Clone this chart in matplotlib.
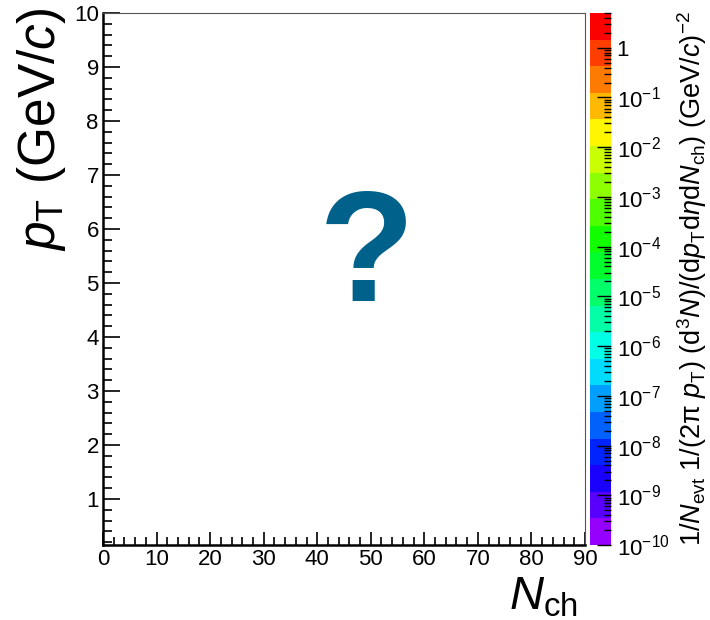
import numpy as np
import matplotlib
matplotlib.use("Agg")
import matplotlib.pyplot as plt
from matplotlib.colors import ListedColormap, LogNorm, hsv_to_rgb
from matplotlib.cm import ScalarMappable
from matplotlib.ticker import MultipleLocator, LogLocator, NullFormatter

plt.rcParams['font.family'] = ['Liberation Sans', 'DejaVu Sans']
plt.rcParams['mathtext.fontset'] = 'custom'
plt.rcParams['mathtext.rm'] = 'Liberation Sans'
plt.rcParams['mathtext.it'] = 'Liberation Sans:italic'
plt.rcParams['mathtext.bf'] = 'Liberation Sans:bold'

# axis ranges / ticks
x_range = [0, 90]
y_range = [0.15, 10]
x_major = [0, 10, 20, 30, 40, 50, 60, 70, 80, 90]
y_major = [1, 2, 3, 4, 5, 6, 7, 8, 9, 10]

# colour scale
z_range = [1e-10, 5]
z_ticks = [1e-10, 1e-9, 1e-8, 1e-7, 1e-6, 1e-5, 1e-4, 1e-3, 1e-2, 1e-1, 1]
z_labels = [r"$10^{-10}$", r"$10^{-9}$", r"$10^{-8}$", r"$10^{-7}$", r"$10^{-6}$",
            r"$10^{-5}$", r"$10^{-4}$", r"$10^{-3}$", r"$10^{-2}$", r"$10^{-1}$", "1"]
n_bands = 20

fig = plt.figure(figsize=(7.1, 6.2), dpi=100)
ax = fig.add_axes([103/710, 1-545/620, 482/710, 532/620])
cax = fig.add_axes([590/710, 1-545/620, 21/710, 532/620])

ax.set_xlim(*x_range)
ax.set_ylim(*y_range)
ax.set_xticks(x_major)
ax.set_yticks(y_major)
ax.xaxis.set_minor_locator(MultipleLocator(2))
ax.yaxis.set_minor_locator(MultipleLocator(0.2))
ax.tick_params(axis='both', which='both', direction='in', labelsize=16, width=1.2)
ax.tick_params(axis='y', which='major', length=12, pad=3)
ax.tick_params(axis='y', which='minor', length=6.5)
ax.tick_params(axis='x', which='major', length=9.5, pad=3)
ax.tick_params(axis='x', which='minor', length=5.5)
for s in ['left', 'bottom']:
    ax.spines[s].set_linewidth(1.8)
for s in ['top', 'right']:
    ax.spines[s].set_linewidth(0.8)
    ax.spines[s].set_color('#555555')

ax.set_ylabel(r"$p_{\mathrm{T}}$ (GeV/$c$)", fontsize=37, loc='top')
ax.yaxis.set_label_coords(-0.072, 1.01)
ax.set_xlabel(r"$N_{\mathrm{ch}}$", fontsize=34, loc='right')
ax.xaxis.set_label_coords(0.985, -0.058)

ax.text(0.548, 0.535, "?", transform=ax.transAxes, fontsize=113, fontweight='bold',
        color='#00628b', ha='center', va='center')

# rainbow palette, violet -> red
hues = np.linspace(275, 0, n_bands) / 360.0
colors = hsv_to_rgb(np.column_stack([hues, np.ones(n_bands), np.ones(n_bands)]))
cmap = ListedColormap(colors)
sm = ScalarMappable(norm=LogNorm(*z_range), cmap=cmap)
cbar = fig.colorbar(sm, cax=cax)
cbar.outline.set_visible(False)
cbar.set_ticks(z_ticks)
cbar.set_ticklabels(z_labels)
cax.yaxis.set_minor_locator(LogLocator(base=10, subs=np.arange(2, 10), numticks=100))
cax.yaxis.set_minor_formatter(NullFormatter())
cax.tick_params(which='both', direction='in', labelsize=16, width=1)
cax.tick_params(which='major', length=10, pad=4)
cax.tick_params(which='minor', length=5)
cbar.set_label(r"1/$N_{\mathrm{evt}}$ 1/(2$\mathrm{\pi}$ $p_{\mathrm{T}}$) (d$^{3}N$)/(d$p_{\mathrm{T}}$d$\eta$d$N_{\mathrm{ch}}$) (GeV/$c$)$^{-2}$",
               fontsize=19.5, labelpad=4)

fig.savefig("out.png", dpi=100)
